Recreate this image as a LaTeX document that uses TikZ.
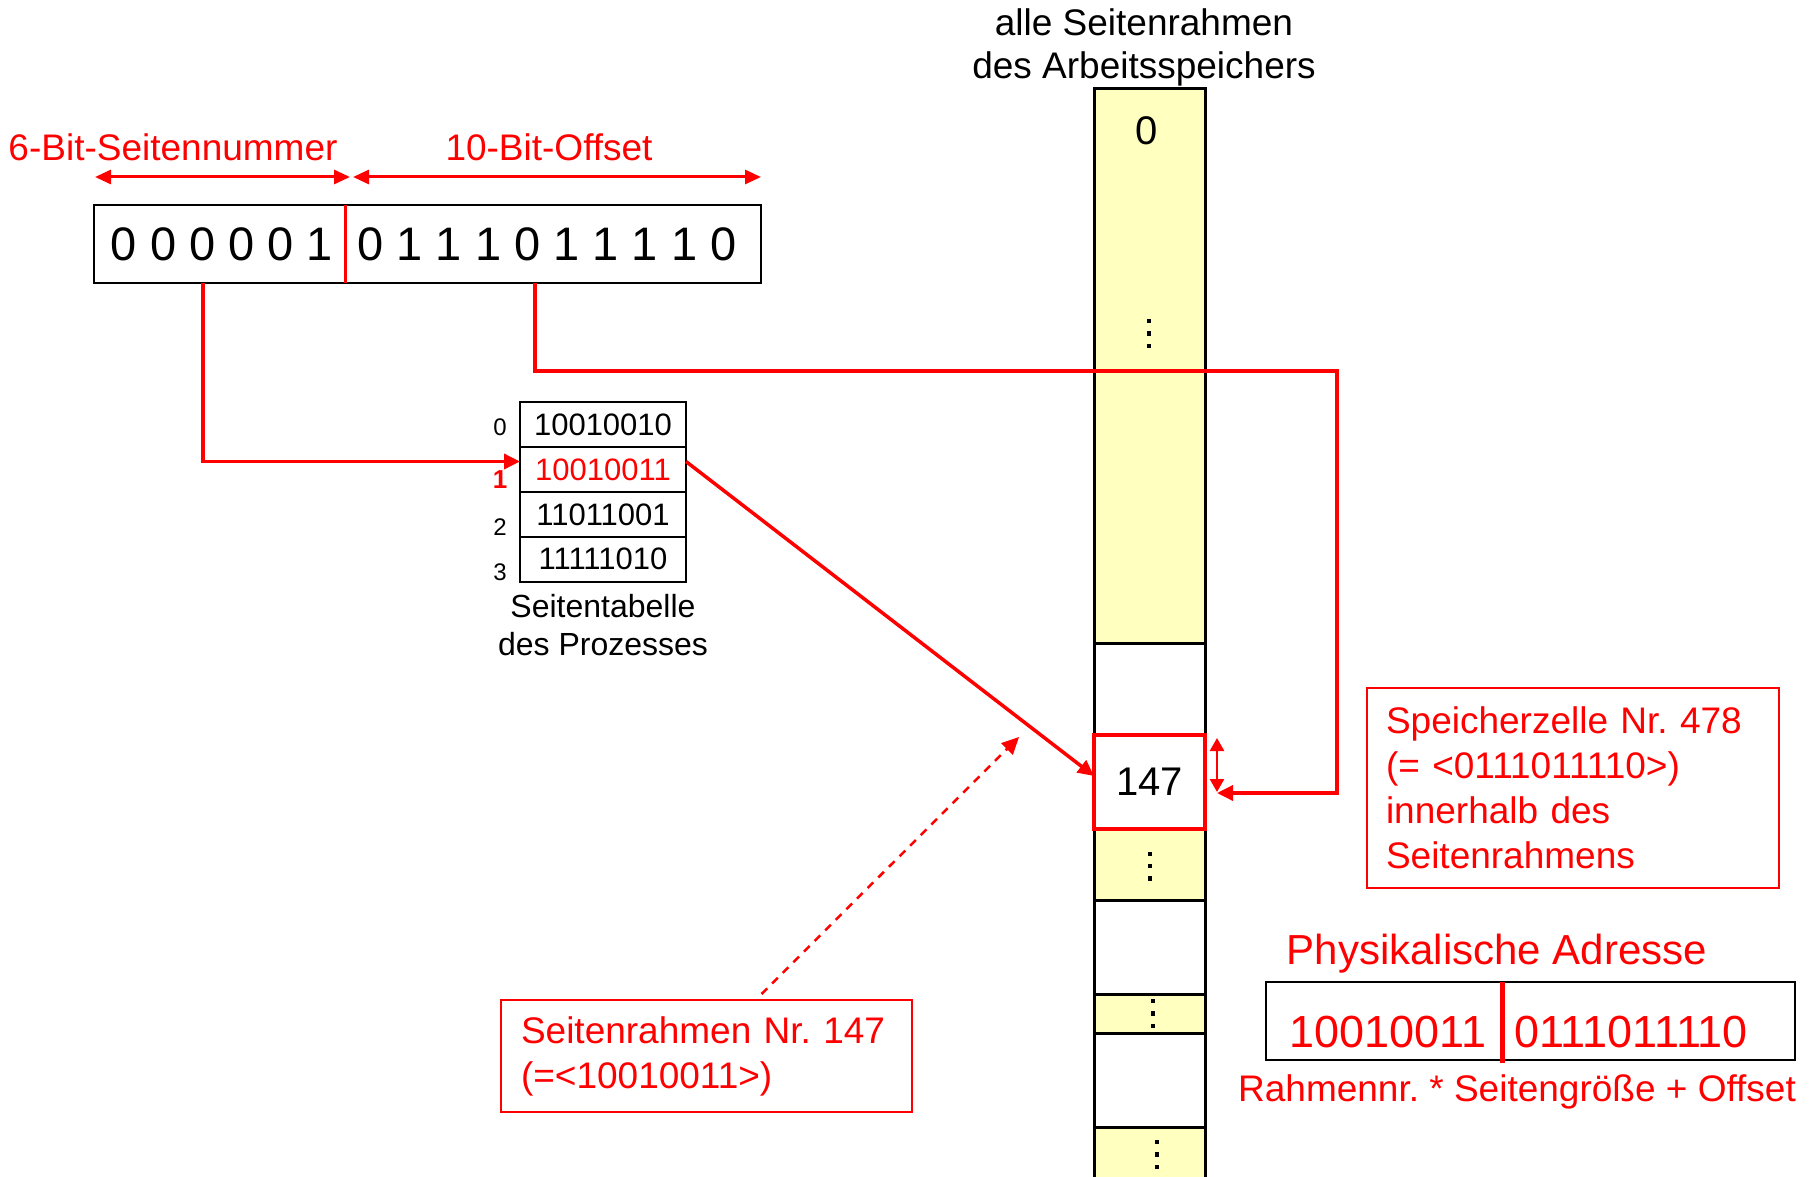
\documentclass[tikz,border=0pt]{standalone}
\usepackage{fontspec}
\setmainfont{Liberation Sans}
\usetikzlibrary{arrows.meta,calc}
\definecolor{memyel}{RGB}{255,255,192}
\definecolor{myred}{RGB}{255,0,0}
\newcommand\fsz[2]{\fontsize{#1}{#2}\selectfont}
\frenchspacing
\begin{document}
\frenchspacing
\begin{tikzpicture}[x=1pt,y=-1pt,
  every node/.style={inner sep=0pt,outer sep=0pt},
  t37/.style={font=\fsz{37}{45}\frenchspacing},
  rtip/.style={-{Triangle[length=16pt,width=15pt]}},
  redln/.style={draw=myred,line width=3.5pt},
  blkbox/.style={draw=black,line width=2.5pt},
  yelseg/.style={fill=memyel,draw=black,line width=3pt,minimum width=111,inner sep=0pt},
  whiteseg/.style={fill=white,draw=black,line width=3pt,minimum width=111,inner sep=0pt},
  tabrow/.style={draw=black,line width=2pt,minimum width=166,minimum height=45,font=\fsz{31}{36}},
  idx/.style={font=\fsz{24}{28}},
  redbox/.style={draw=myred,line width=2.5pt,fill=white,align=left,t37,text=myred},
  dimarr/.style={draw=myred,line width=3pt,{Triangle[length=16pt,width=14pt]}-{Triangle[length=16pt,width=14pt]}},
  dotsq/.style={fill=black,minimum size=4.5pt,inner sep=0pt}
]
\useasboundingbox (0,0) rectangle (1816,1177);

% ---- memory column ----
\node[yelseg,minimum height=554] (m0) at (1149.5,366) {};
\node[whiteseg,minimum height=92] (w1) at (1149.5,689) {};
\node[yelseg,minimum height=71] (m2) at (1149.5,864.5) {};
\node[whiteseg,minimum height=94] (w3) at (1149.5,947) {};
\node[yelseg,minimum height=39] (m4) at (1149.5,1013.5) {};
\node[whiteseg,minimum height=94] (w5) at (1149.5,1080) {};
\node[yelseg,minimum height=80] (m6) at (1149.5,1167) {};
\node[draw=myred,fill=white,line width=4.5pt,minimum width=111,minimum height=94,font=\fsz{40}{48}] (f147) at (1149.5,782) {147};
\node[font=\fsz{40}{48}] (zero) at (1147,131) {0};
\foreach \xx/\yy [count=\i] in {1149/321,1149/333.5,1149/346,1150/854,1150/866,1150/878.5,1153/1001,1153/1013.5,1153/1026,1157/1142,1157/1154.5,1157/1167}
  \node[dotsq] (d\i) at (\xx,\yy) {};

\node[t37] (memt1) at (1144,22) {alle Seitenrahmen};
\node[t37] (memt2) at (1144,69) {des Arbeitsspeichers};

% ---- virtual address ----
\node[t37,text=myred] (lpn) at (173,147) {6-Bit-Seitennummer};
\node[t37,text=myred] (loff) at (549,147) {10-Bit-Offset};
\coordinate (dA) at (95,177);
\coordinate (dB) at (350,177);
\coordinate (dC) at (353,177);
\coordinate (dD) at (761,177);
\draw[dimarr] (dA) -- (dB);
\draw[dimarr] (dC) -- (dD);

\node[blkbox,minimum width=667,minimum height=78] (va) at (427.5,244) {};
\draw[myred,line width=3pt] ($(va.north west)+(251,0)$) -- ($(va.south west)+(251,0)$);
\node[font=\fsz{47}{56}] (vpn) at (222,244) {0 0 0 0 0 1};
\node[font=\fsz{47}{56}] (voff) at (547,244) {0 1 1 1 0 1 1 1 1 0};

% ---- page table ----
\node[tabrow] (r0) at (603,424.5) {10010010};
\node[tabrow,text=myred] (r1) at (603,469.5) {10010011};
\node[tabrow] (r2) at (603,514.5) {11011001};
\node[tabrow] (r3) at (603,559) {11111010};
\node[idx] (i0) at (500,427) {0};
\node[idx,text=myred,font=\fsz{26}{30}\bfseries] (i1) at (500,480) {1};
\node[idx] (i2) at (500,527) {2};
\node[idx] (i3) at (500,572) {3};
\node[font=\fsz{32}{38}] (pt1) at (603,606) {Seitentabelle};
\node[font=\fsz{32}{38}] (pt2) at (603,644) {des Prozesses};

% ---- connectors ----
\coordinate (pnout) at ($(va.south west)+(109,0)$);
\coordinate (offout) at ($(va.south west)+(441,0)$);
\coordinate (cellin) at ($(f147.east)+(12,11)$);
\draw[redln,rtip] (pnout) |- ([yshift=8pt]r1.west);
\draw[redln,rtip] (offout) |- (1337,371) |- (cellin);
\draw[redln,rtip] ([yshift=8pt]r1.east) -- ([yshift=6pt]f147.west);
\coordinate (o1) at ($(f147.north east)+(12,3)$);
\coordinate (o2) at ($(f147.north east)+(12,57)$);
\draw[draw=myred,line width=2.5pt,{Triangle[length=13pt,width=14pt]}-{Triangle[length=13pt,width=14pt]}] (o1) -- (o2);

% ---- info boxes ----
\node[redbox,minimum width=412,minimum height=200,text width=374] (sz) at (1573,788)
  {Speicherzelle Nr. 478\\(= <0111011110>)\\innerhalb des\\Seitenrahmens};
\node[redbox,minimum width=411,minimum height=112,text width=371] (sr) at (706.5,1056)
  {Seitenrahmen Nr. 147\\(=<10010011>)};
\coordinate (dashend) at (1019,737);
\draw[myred,line width=2.5pt,dash pattern=on 8pt off 7pt,-{Triangle[length=17pt,width=16pt]}] ($(sr.north)+(55,-6)$) -- (dashend);

% ---- physical address ----
\node[font=\fsz{42}{50},text=myred] (phl) at (1497,954) {Physikalische Adresse};
\node[blkbox,minimum width=529,minimum height=78] (pa) at (1530.5,1021) {};
\draw[myred,line width=5pt] ($(pa.north west)+(236,0)$) -- ($(pa.south west)+(236,3)$);
\node[font=\fsz{45}{54},text=myred] (pfn) at (1388,1032) {10010011};
\node[font=\fsz{45}{54},text=myred] (pof) at (1631,1032) {0111011110};
\node[t37,text=myred] (form) at (1517,1092) {Rahmennr. * Seitengröße + Offset};
\end{tikzpicture}
\end{document}
